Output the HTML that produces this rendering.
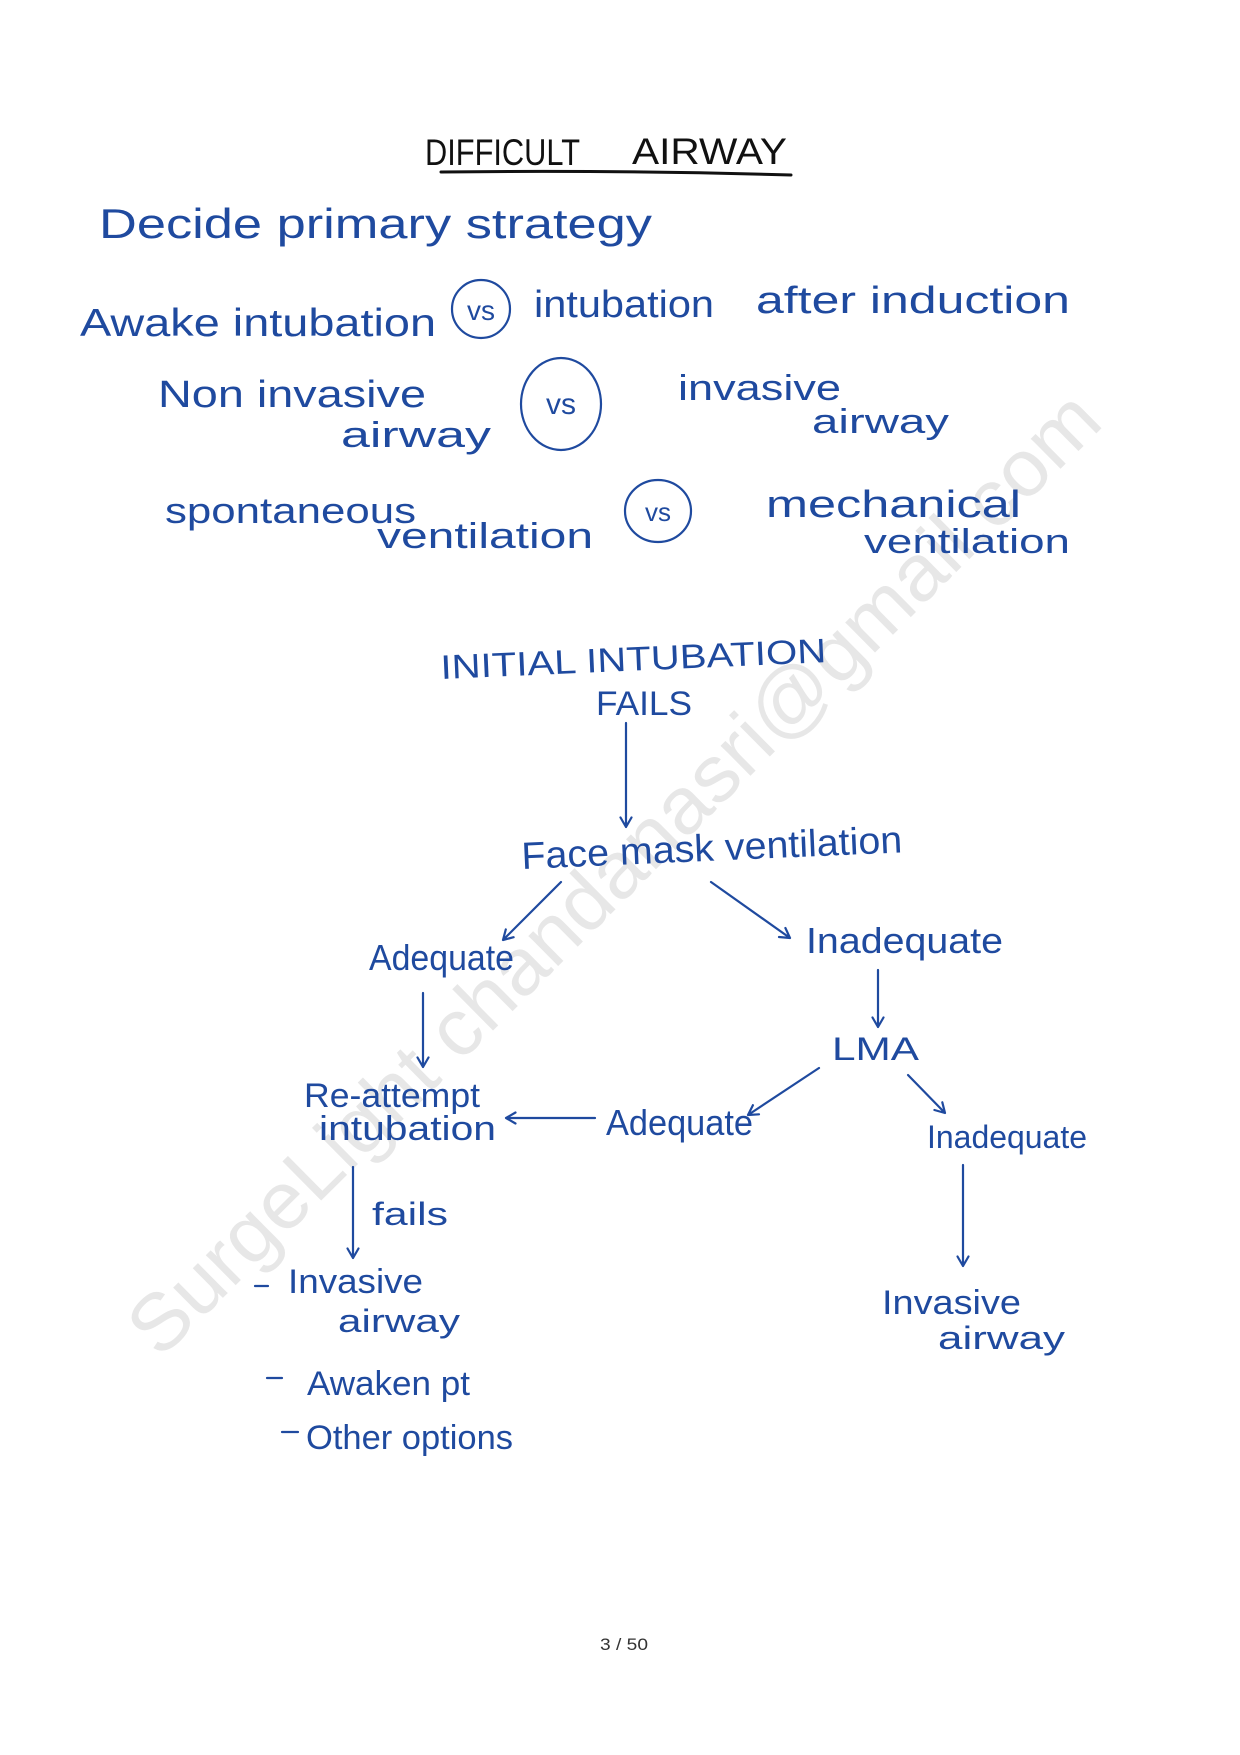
<!DOCTYPE html>
<html>
<head>
<meta charset="utf-8">
<style>
html,body{margin:0;padding:0;background:#fff;}
svg{display:block;}
.ink{font-family:"Liberation Sans",sans-serif;fill:#1f4a9f;}
.ln{stroke:#1f4a9f;stroke-width:2.2;fill:none;stroke-linecap:round;stroke-linejoin:round;}
</style>
</head>
<body>
<svg width="1240" height="1755" viewBox="0 0 1240 1755" xmlns="http://www.w3.org/2000/svg">
<rect width="1240" height="1755" fill="#fff"/>

<!-- watermark -->
<text x="160" y="1360" transform="rotate(-44.7 160 1360)" font-family="Liberation Sans, sans-serif" font-size="80" fill="#e7e7e7" textLength="1330" lengthAdjust="spacingAndGlyphs">SurgeLight chandanasri@gmail.com</text>

<!-- title -->
<text x="425" y="165" font-family="Liberation Sans, sans-serif" font-size="37" fill="#111" textLength="155" lengthAdjust="spacingAndGlyphs">DIFFICULT</text>
<text x="632" y="164" font-family="Liberation Sans, sans-serif" font-size="37" fill="#111" textLength="155" lengthAdjust="spacingAndGlyphs">AIRWAY</text>
<path d="M441 172 Q620 170 791 175" stroke="#111" stroke-width="3" fill="none" stroke-linecap="round"/>

<!-- Decide primary strategy -->
<text class="ink" x="99" y="238" font-size="42" textLength="553" lengthAdjust="spacingAndGlyphs">Decide primary strategy</text>

<!-- row 1 -->
<text class="ink" x="80" y="336" font-size="39" textLength="356" lengthAdjust="spacingAndGlyphs">Awake intubation</text>
<ellipse class="ln" cx="481" cy="309" rx="29" ry="29"/>
<text class="ink" x="481" y="320" font-size="28" text-anchor="middle">vs</text>
<text class="ink" x="534" y="317" font-size="38" textLength="180" lengthAdjust="spacingAndGlyphs">intubation</text>
<text class="ink" x="756" y="313" font-size="38" textLength="314" lengthAdjust="spacingAndGlyphs">after induction</text>

<!-- row 2 -->
<text class="ink" x="158" y="407" font-size="38" textLength="268" lengthAdjust="spacingAndGlyphs">Non invasive</text>
<text class="ink" x="341" y="447" font-size="36" textLength="150" lengthAdjust="spacingAndGlyphs">airway</text>
<ellipse class="ln" cx="561" cy="404" rx="40" ry="46"/>
<text class="ink" x="561" y="414" font-size="30" text-anchor="middle">vs</text>
<text class="ink" x="678" y="400" font-size="36" textLength="163" lengthAdjust="spacingAndGlyphs">invasive</text>
<text class="ink" x="812" y="433" font-size="34" textLength="137" lengthAdjust="spacingAndGlyphs">airway</text>

<!-- row 3 -->
<text class="ink" x="165" y="523" font-size="36" textLength="251" lengthAdjust="spacingAndGlyphs">spontaneous</text>
<text class="ink" x="377" y="548" font-size="36" textLength="216" lengthAdjust="spacingAndGlyphs">ventilation</text>
<ellipse class="ln" cx="658" cy="511" rx="33" ry="31"/>
<text class="ink" x="658" y="521" font-size="26" text-anchor="middle">vs</text>
<text class="ink" x="766" y="517" font-size="38" textLength="255" lengthAdjust="spacingAndGlyphs">mechanical</text>
<text class="ink" x="864" y="553" font-size="34" textLength="206" lengthAdjust="spacingAndGlyphs">ventilation</text>

<!-- flowchart -->
<text class="ink" x="441" y="679" font-size="34" transform="rotate(-2.5 441 679)" textLength="386" lengthAdjust="spacingAndGlyphs">INITIAL INTUBATION</text>
<text class="ink" x="596" y="715" font-size="34" textLength="96" lengthAdjust="spacingAndGlyphs">FAILS</text>
<path class="ln" d="M626 723 L626 827 M620.5 817.5 L626 827 L631.5 817.5"/>

<text class="ink" x="522" y="869" font-size="38" transform="rotate(-2.5 522 869)" textLength="381" lengthAdjust="spacingAndGlyphs">Face mask ventilation</text>

<path class="ln" d="M561 882 L503 940 M513.6 937.2 L503 940 L505.8 929.4"/>
<path class="ln" d="M711 882 L790 938 M779 937 L790 938 L785.4 928"/>

<text class="ink" x="369" y="970" font-size="36" textLength="145" lengthAdjust="spacingAndGlyphs">Adequate</text>
<text class="ink" x="806" y="953" font-size="36" textLength="197" lengthAdjust="spacingAndGlyphs">Inadequate</text>

<path class="ln" d="M423 993 L423 1067 M417.5 1057.5 L423 1067 L428.5 1057.5"/>
<path class="ln" d="M878 970 L878 1027 M872.5 1017.5 L878 1027 L883.5 1017.5"/>

<text class="ink" x="832" y="1060" font-size="32" textLength="87" lengthAdjust="spacingAndGlyphs">LMA</text>

<path class="ln" d="M819 1068 L748 1115 M759 1114.3 L748 1115 L752.9 1105.2"/>
<path class="ln" d="M908 1075 L945 1113 M934.4 1110 L945 1113 L942.3 1102.3"/>

<text class="ink" x="304" y="1107" font-size="34" textLength="176" lengthAdjust="spacingAndGlyphs">Re-attempt</text>
<text class="ink" x="319" y="1140" font-size="34" textLength="177" lengthAdjust="spacingAndGlyphs">intubation</text>
<path class="ln" d="M595 1118 L506 1118 M515.5 1112.5 L506 1118 L515.5 1123.5"/>
<text class="ink" x="606" y="1135" font-size="36" textLength="147" lengthAdjust="spacingAndGlyphs">Adequate</text>
<text class="ink" x="927" y="1148" font-size="32" textLength="160" lengthAdjust="spacingAndGlyphs">Inadequate</text>

<!-- left branch bottom -->
<path class="ln" d="M353 1167 L353 1258 M347.5 1248.5 L353 1258 L358.5 1248.5"/>
<text class="ink" x="372" y="1225" font-size="32" textLength="76" lengthAdjust="spacingAndGlyphs">fails</text>

<path class="ln" d="M255 1286 L268 1286"/>
<text class="ink" x="288" y="1293" font-size="34" textLength="135" lengthAdjust="spacingAndGlyphs">Invasive</text>
<text class="ink" x="338" y="1332" font-size="32" textLength="122" lengthAdjust="spacingAndGlyphs">airway</text>

<path class="ln" d="M267 1378 L282 1378"/>
<text class="ink" x="307" y="1395" font-size="34" textLength="163" lengthAdjust="spacingAndGlyphs">Awaken pt</text>

<path class="ln" d="M282 1432 L298 1432"/>
<text class="ink" x="306" y="1449" font-size="34" textLength="207" lengthAdjust="spacingAndGlyphs">Other options</text>

<!-- right branch bottom -->
<path class="ln" d="M963 1165 L963 1266 M957.5 1256.5 L963 1266 L968.5 1256.5"/>
<text class="ink" x="882" y="1314" font-size="34" textLength="139" lengthAdjust="spacingAndGlyphs">Invasive</text>
<text class="ink" x="938" y="1349" font-size="32" textLength="127" lengthAdjust="spacingAndGlyphs">airway</text>

<!-- page number -->
<text x="600" y="1650" font-family="Liberation Sans, sans-serif" font-size="17" fill="#333" textLength="48" lengthAdjust="spacingAndGlyphs">3 / 50</text>
</svg>
</body>
</html>
